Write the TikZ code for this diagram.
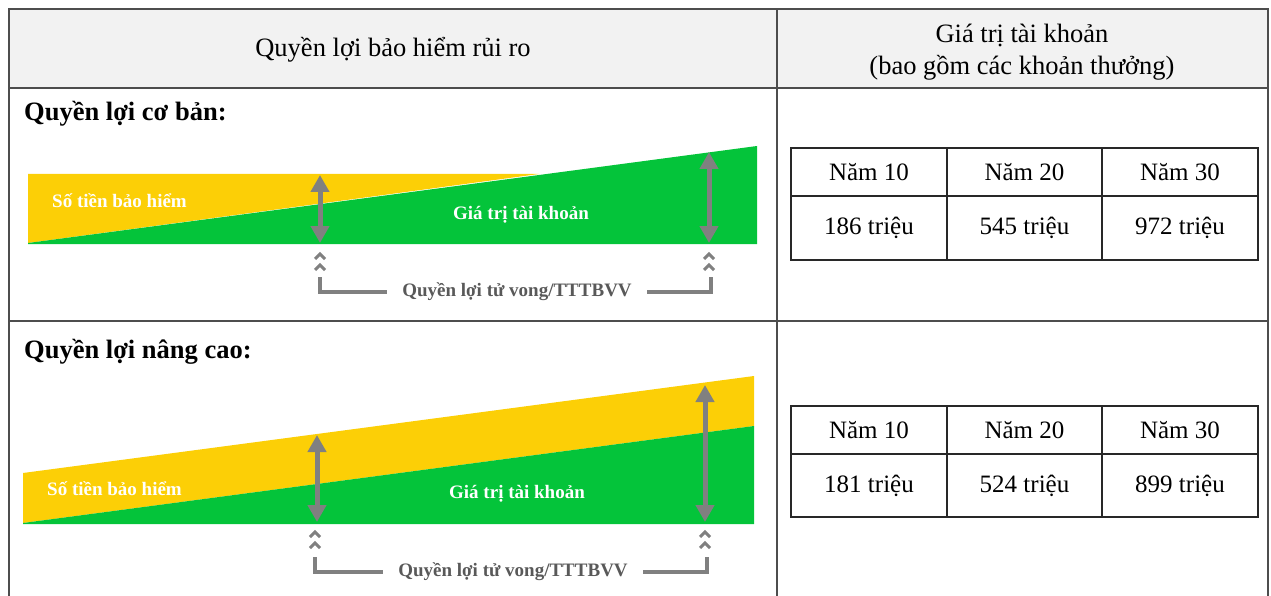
\documentclass[tikz,border=0pt]{standalone}
\usepackage{fontspec}
\setmainfont{Liberation Serif}
\usetikzlibrary{arrows.meta}
\definecolor{ylw}{RGB}{252,207,6}
\definecolor{grn}{RGB}{4,196,58}
\definecolor{arr}{RGB}{128,128,128}
\definecolor{brd}{RGB}{77,77,77}
\definecolor{hdr}{RGB}{242,242,242}
\definecolor{lbl}{RGB}{89,89,89}
\definecolor{tbl}{RGB}{40,40,40}
\begin{document}
\begin{tikzpicture}[x=1pt,y=-1pt,
  garrow/.style={draw=arr, line width=5pt, {Triangle[width=18pt,length=17pt]}-{Triangle[width=18pt,length=17pt]}},
  chev/.style={draw=arr, line width=3pt},
  brk/.style={draw=arr, line width=4pt},
  wlabel/.style={text=white, font=\bfseries\fontsize{19}{22}\selectfont, inner sep=0pt},
  glabel/.style={text=lbl, font=\bfseries\fontsize{19}{22}\selectfont, inner sep=0pt},
  hd/.style={font=\fontsize{26.5}{32}\selectfont, align=center, inner sep=0pt},
  sec/.style={font=\bfseries\fontsize{26.5}{30}\selectfont, inner sep=0pt, anchor=west},
  cell/.style={draw=tbl, line width=1.5pt, font=\fontsize{25}{30}\selectfont, outer sep=0pt, inner sep=0pt},
]
\useasboundingbox (0,0) rectangle (1271,596);
% outer table
\fill[hdr] (9,9) rectangle (1268,88);
\draw[brd, line width=2pt] (9,88) -- (1268,88);
\draw[brd, line width=2pt] (777,9) -- (777,596);
\draw[brd, line width=2pt] (9,321) -- (1268,321);
\draw[brd, line width=2.5pt] (9,596) -- (9,9) -- (1268,9) -- (1268,596);
\node[hd] (h1) at (393,50) {Quyền lợi bảo hiểm rủi ro};
\node[hd] (h2) at (1022,52) {Giá trị tài khoản\\(bao gồm các khoản thưởng)};
% section 1
\node[sec] (s1) at (24,114) {Quyền lợi cơ bản:};
\fill[ylw] (28,174) -- (539,174) -- (28,243) -- cycle;
\fill[grn] (28,243) -- (757,146) -- (757,244) -- (28,244) -- cycle;
\node[wlabel, anchor=west] (y1) at (52,201) {Số tiền bảo hiểm};
\node[wlabel] (g1) at (521,215) {Giá trị tài khoản};
\coordinate (a1t) at (320,175); \coordinate (a1b) at (320,243);
\coordinate (a2t) at (709,152); \coordinate (a2b) at (709,243);
\draw[garrow] (a1t) -- (a1b);
\draw[garrow] (a2t) -- (a2b);
\draw[chev] (315,259) -- (320,254) -- (325,259);
\draw[chev] (315,270) -- (320,265) -- (325,270);
\draw[chev] (704,259) -- (709,254) -- (714,259);
\draw[chev] (704,270) -- (709,265) -- (714,270);
\node[glabel] (q1) at (517,292) {Quyền lợi tử vong/TTTBVV};
\coordinate (b1l) at (320,277); \coordinate (b1r) at (711,277);
\draw[brk] (b1l) |- ([xshift=-15pt]q1.west);
\draw[brk] (b1r) |- ([xshift=15pt]q1.east);
% table 1
\node[cell, minimum width=156pt, minimum height=48pt] (t1a) at (869,172) {Năm 10};
\node[cell, minimum width=155pt, minimum height=48pt] (t1b) at (1024.5,172) {Năm 20};
\node[cell, minimum width=156pt, minimum height=48pt] (t1c) at (1180,172) {Năm 30};
\node[cell, minimum width=156pt, minimum height=64pt] (t1d) at (869,228) {186 triệu};
\node[cell, minimum width=155pt, minimum height=64pt] (t1e) at (1024.5,228) {545 triệu};
\node[cell, minimum width=156pt, minimum height=64pt] (t1f) at (1180,228) {972 triệu};
% section 2
\node[sec] (s2) at (24,352) {Quyền lợi nâng cao:};
\fill[ylw] (23,473) -- (754,376) -- (754,426) -- (23,523) -- cycle;
\fill[grn] (23,523) -- (754,426) -- (754,524) -- (23,524) -- cycle;
\node[wlabel, anchor=west] (y2) at (47,489) {Số tiền bảo hiểm};
\node[wlabel] (g2) at (517,494) {Giá trị tài khoản};
\coordinate (a3t) at (317,435); \coordinate (a3b) at (317,522);
\coordinate (a4t) at (705,385); \coordinate (a4b) at (705,522);
\draw[garrow] (a3t) -- (a3b);
\draw[garrow] (a4t) -- (a4b);
\draw[chev] (310,537) -- (315,532) -- (320,537);
\draw[chev] (310,548) -- (315,543) -- (320,548);
\draw[chev] (700,537) -- (705,532) -- (710,537);
\draw[chev] (700,548) -- (705,543) -- (710,548);
\node[glabel] (q2) at (513,572) {Quyền lợi tử vong/TTTBVV};
\coordinate (b2l) at (315,557); \coordinate (b2r) at (707,557);
\draw[brk] (b2l) |- ([xshift=-15pt]q2.west);
\draw[brk] (b2r) |- ([xshift=15pt]q2.east);
% table 2
\node[cell, minimum width=156pt, minimum height=48pt] (t2a) at (869,430) {Năm 10};
\node[cell, minimum width=155pt, minimum height=48pt] (t2b) at (1024.5,430) {Năm 20};
\node[cell, minimum width=156pt, minimum height=48pt] (t2c) at (1180,430) {Năm 30};
\node[cell, minimum width=156pt, minimum height=63pt] (t2d) at (869,485.5) {181 triệu};
\node[cell, minimum width=155pt, minimum height=63pt] (t2e) at (1024.5,485.5) {524 triệu};
\node[cell, minimum width=156pt, minimum height=63pt] (t2f) at (1180,485.5) {899 triệu};
\end{tikzpicture}
\end{document}
